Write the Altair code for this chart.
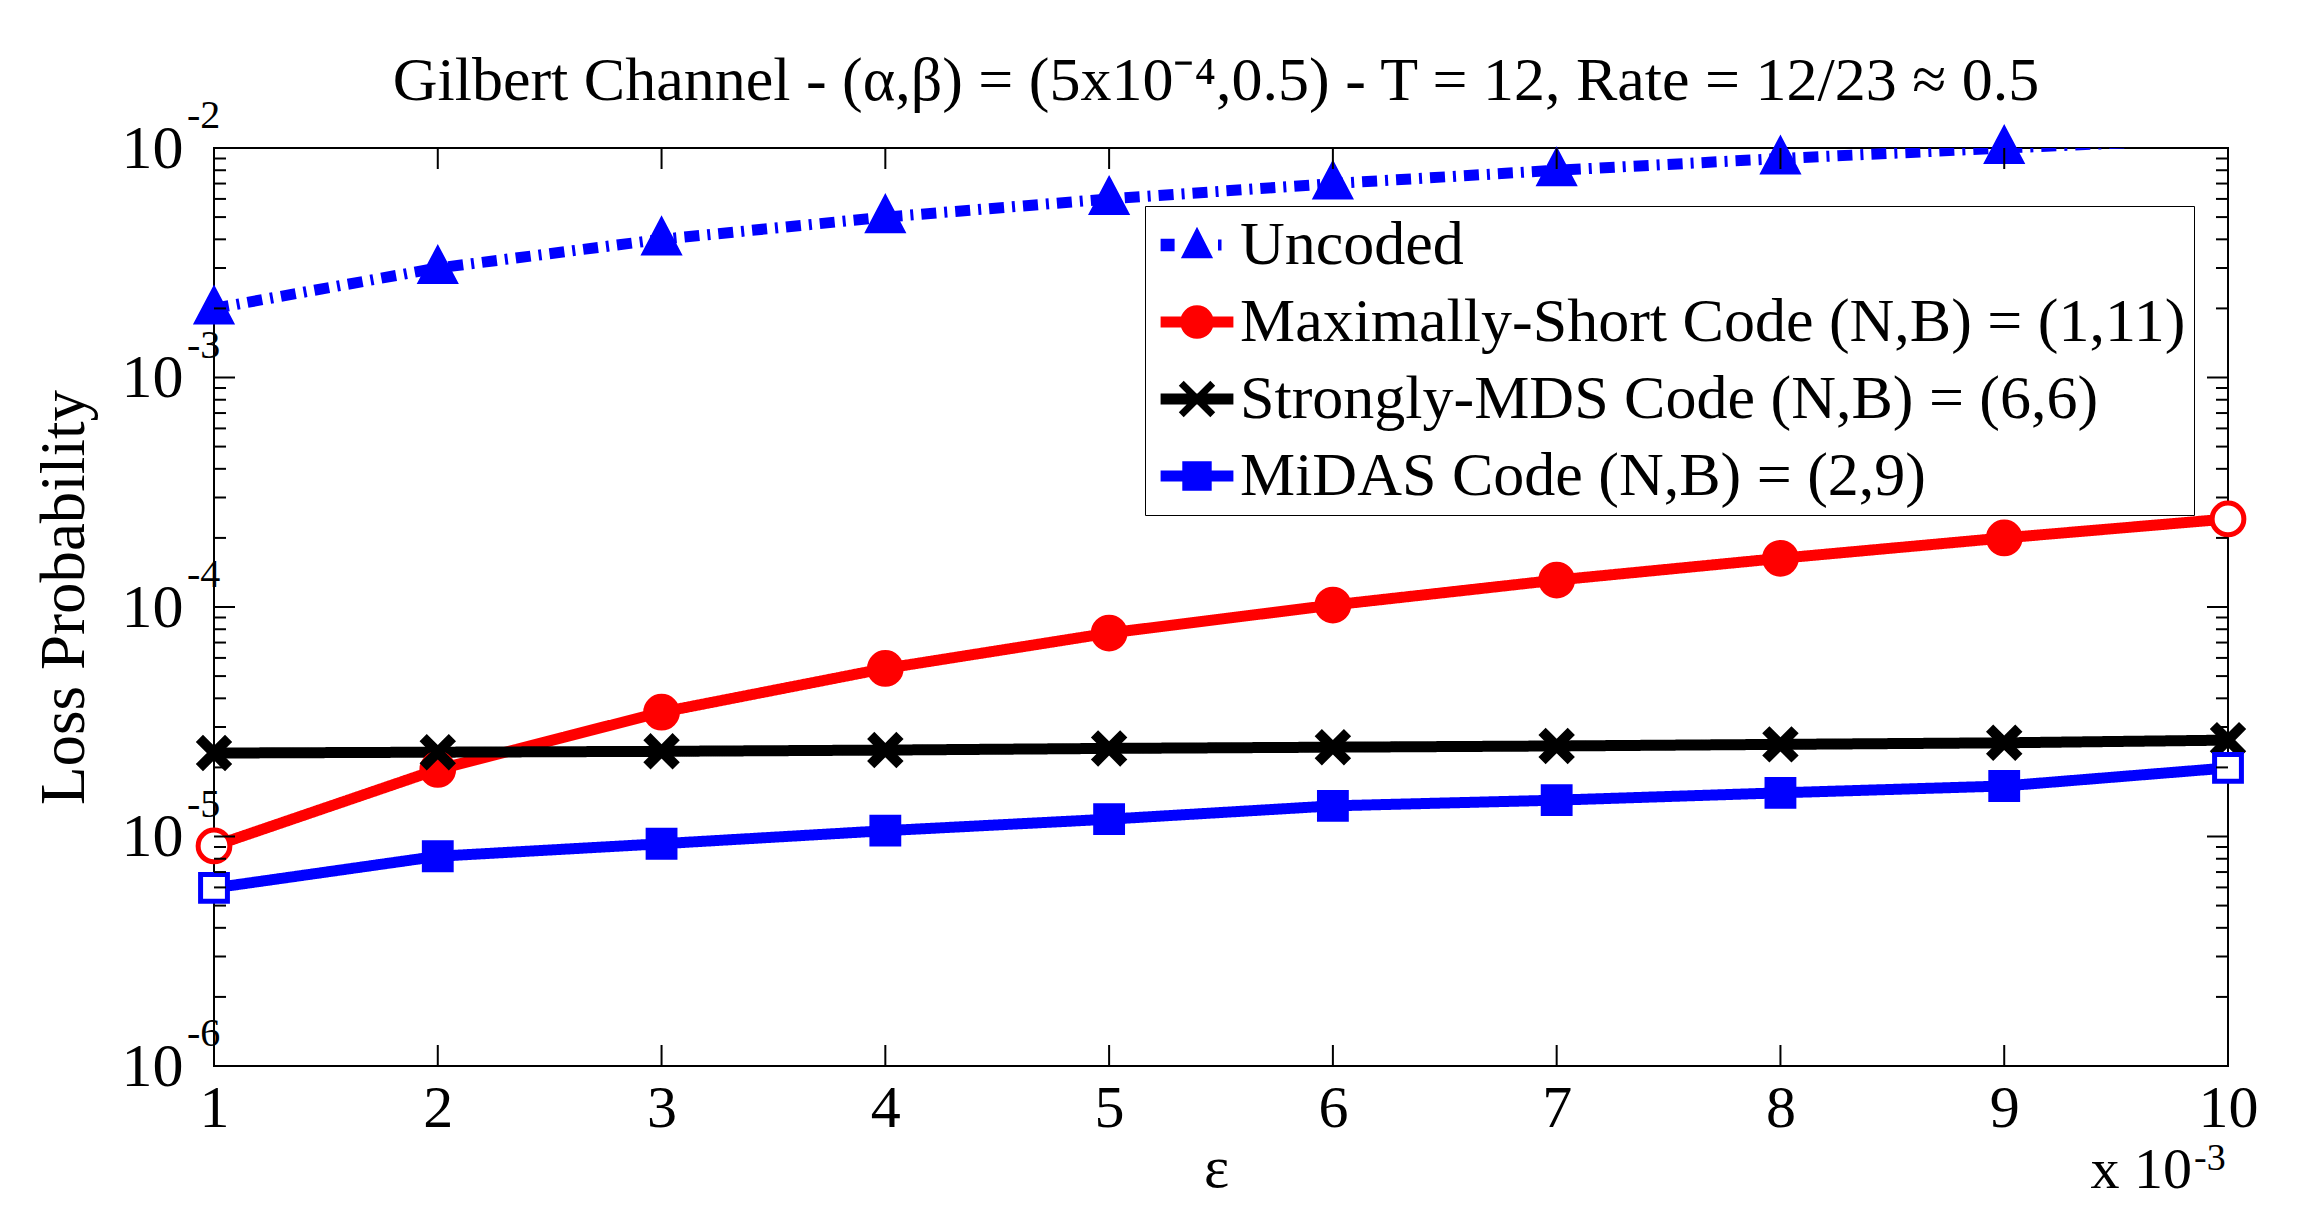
import altair as alt
import pandas as pd

# ---------------- data ----------------
eps = [1, 2, 3, 4, 5, 6, 7, 8, 9, 10]
uncoded = [2.0e-3, 3.0e-3, 4.0e-3, 5.0e-3, 6.0e-3, 7.0e-3, 8.0e-3, 9.0e-3, 1.0e-2, 1.1e-2]
max_short = [9.1e-6, 1.96e-5, 3.48e-5, 5.4e-5, 7.7e-5, 1.02e-4, 1.31e-4, 1.63e-4, 2.0e-4, 2.42e-4]
strongly_mds = [2.31e-5, 2.33e-5, 2.35e-5, 2.38e-5, 2.42e-5, 2.45e-5, 2.48e-5, 2.52e-5, 2.56e-5, 2.63e-5]
midas = [5.97e-6, 8.2e-6, 9.3e-6, 1.06e-5, 1.19e-5, 1.36e-5, 1.44e-5, 1.55e-5, 1.66e-5, 1.99e-5]

series_names = [
    "Uncoded",
    "Maximally-Short Code (N,B) = (1,11)",
    "Strongly-MDS Code (N,B) = (6,6)",
    "MiDAS Code (N,B) = (2,9)",
]
series_colors = ["#0000ff", "#ff0000", "#000000", "#0000ff"]

x_ticks = [1, 2, 3, 4, 5, 6, 7, 8, 9, 10]
x_inner_ticks = [2, 3, 4, 5, 6, 7, 8, 9]
y_decades = [1e-6, 1e-5, 1e-4, 1e-3, 1e-2]
y_exponents = ["-6", "-5", "-4", "-3", "-2"]
y_minor = [m * 10.0 ** e for e in range(-6, -2) for m in range(2, 10)]

title_text = "Gilbert Channel - (\u03b1,\u03b2) = (5x10\u207b\u2074,0.5) - T = 12, Rate = 12/23 \u2248 0.5"
x_title = "\u03b5"
y_title = "Loss Probability"
mult_base = "x 10"
mult_exp = "-3"

# ---------------- layout ----------------
W, H = 2014, 918
FONT = "Liberation Serif"

rows = []
for name, vals in zip(series_names, [uncoded, max_short, strongly_mds, midas]):
    for e, v in zip(eps, vals):
        rows.append({"eps": e, "value": v, "series": name})
df = pd.DataFrame(rows)

x_scale = alt.Scale(domain=[1, 10], nice=False, zero=False)
y_scale = alt.Scale(type="log", domain=[1e-6, 1e-2], nice=False)

x_axis = alt.Axis(
    values=x_ticks, ticks=False, domain=False, grid=False,
    labelFont=FONT, labelFontSize=60, labelColor="black", labelPadding=13,
    labelFlush=False, labelOverlap=False,
    title=x_title, titleFont=FONT, titleFontSize=60, titleFontWeight="normal",
    titleColor="black", titleX=1002, titleY=102, titleAlign="center",
    titleBaseline="middle",
)
y_axis = alt.Axis(
    values=y_decades, labelExpr="'10'", ticks=False, domain=False, grid=False,
    labelFont=FONT, labelFontSize=62, labelColor="black", labelPadding=31,
    labelOverlap=False, labelBaseline="middle",
    title=y_title, titleFont=FONT, titleFontSize=63, titleFontWeight="normal",
    titleColor="black", titleAngle=270, titleX=-150, titleY=449,
    titleAlign="center", titleBaseline="middle",
)
x_enc = alt.X("eps:Q", scale=x_scale, axis=x_axis)
y_enc = alt.Y("value:Q", scale=y_scale, axis=y_axis)

color_scale = alt.Scale(domain=series_names, range=series_colors)

# marker shapes for the data points
TRI = "M0,-1.1L1,0.8L-1,0.8Z"
XS = "M-1,-0.75L-0.75,-1L0,-0.25L0.75,-1L1,-0.75L0.25,0L1,0.75L0.75,1L0,0.25L-0.75,1L-1,0.75L-0.25,0Z"
point_shapes = [TRI, "circle", XS, "square"]
point_sizes = [1150, 720, 1350, 820]

# legend symbols: line + marker
LINE = "M-2.6,-0.4L2.6,-0.4L2.6,0.4L-2.6,0.4Z"
LEG_UNC = ("M-2.6,-0.45L-1.6,-0.45L-1.6,0.45L-2.6,0.45Z"
           "M0,-1.3L1.15,0.95L-1.15,0.95Z"
           "M1.5,-0.4L1.75,-0.4L1.75,0.4L1.5,0.4Z")
LEG_MS = LINE + "M-1.2,0A1.2,1.2,0,1,1,1.2,0A1.2,1.2,0,1,1,-1.2,0Z"
LEG_SM = LINE + ("M-1.3,-0.95L-0.95,-1.3L0,-0.35L0.95,-1.3L1.3,-0.95L0.35,0L1.3,0.95"
                 "L0.95,1.3L0,0.35L-0.95,1.3L-1.3,0.95L-0.35,0Z")
LEG_MI = LINE + "M-1.05,-1.05L1.05,-1.05L1.05,1.05L-1.05,1.05Z"
legend_shapes = [LEG_UNC, LEG_MS, LEG_SM, LEG_MI]

# ---------------- layers ----------------
lines = alt.Chart(df).mark_line(strokeWidth=11, clip=True, strokeCap="butt").encode(
    x=x_enc,
    y=y_enc,
    color=alt.Color("series:N", scale=color_scale, legend=None),
    strokeDash=alt.StrokeDash(
        "series:N",
        scale=alt.Scale(domain=series_names, range=[[15, 8, 3, 8], [1, 0], [1, 0], [1, 0]]),
        legend=None,
    ),
)

hollow_test = "(datum.eps == 1 || datum.eps == 10) && (datum.series == '%s' || datum.series == '%s')" % (
    series_names[1], series_names[3])

points = alt.Chart(df).transform_filter("datum.value <= 0.0101").transform_calculate(
    hollow=hollow_test
).mark_point(filled=True, opacity=1, strokeWidth=5).encode(
    x=x_enc,
    y=y_enc,
    shape=alt.Shape("series:N", scale=alt.Scale(domain=series_names, range=point_shapes), legend=None),
    size=alt.Size("series:N", scale=alt.Scale(domain=series_names, range=point_sizes), legend=None),
    fill=alt.condition("datum.hollow", alt.value("white"),
                       alt.Fill("series:N", scale=color_scale, legend=None)),
    stroke=alt.Stroke("series:N", scale=color_scale, legend=None),
)

legend_def = alt.Legend(
    title=None, orient="none", legendX=931, legendY=58,
    fillColor="white", strokeColor="black", padding=8, rowPadding=15,
    labelFont=FONT, labelFontSize=62, labelColor="black", labelLimit=3000,
    symbolSize=784, symbolStrokeWidth=0, symbolOffset=13, labelOffset=12,
    symbolOpacity=1,
)
legend_layer = alt.Chart(df).transform_filter("datum.eps == 1").mark_point(
    filled=True, opacity=1, clip=True
).encode(
    x=alt.value(-5000),
    y=alt.value(-5000),
    shape=alt.Shape("series:N", scale=alt.Scale(domain=series_names, range=legend_shapes), legend=legend_def),
    fill=alt.Fill("series:N", scale=alt.Scale(domain=series_names, range=series_colors), legend=legend_def),
)

ydec_df = pd.DataFrame({"value": y_decades, "exp": y_exponents})
yminor_df = pd.DataFrame({"value": y_minor})
xin_df = pd.DataFrame({"eps": x_inner_ticks})

rule_style = dict(color="black", strokeWidth=2)
y_major_l = alt.Chart(ydec_df).mark_rule(**rule_style).encode(y=y_enc, x=alt.value(0), x2=alt.value(21))
y_major_r = alt.Chart(ydec_df).mark_rule(**rule_style).encode(y=y_enc, x=alt.value(W), x2=alt.value(W - 21))
y_minor_l = alt.Chart(yminor_df).mark_rule(**rule_style).encode(y=y_enc, x=alt.value(0), x2=alt.value(12))
y_minor_r = alt.Chart(yminor_df).mark_rule(**rule_style).encode(y=y_enc, x=alt.value(W), x2=alt.value(W - 12))
x_tick_b = alt.Chart(xin_df).mark_rule(**rule_style).encode(x=x_enc, y=alt.value(H), y2=alt.value(H - 21))
x_tick_t = alt.Chart(xin_df).mark_rule(**rule_style).encode(x=x_enc, y=alt.value(0), y2=alt.value(21))

exp_text = alt.Chart(ydec_df).mark_text(
    font=FONT, fontSize=40, align="left", baseline="middle", dy=-32, color="black"
).encode(y=y_enc, x=alt.value(-27), text="exp:N")

title_layer = alt.Chart(pd.DataFrame({"t": [title_text]})).mark_text(
    font=FONT, fontSize=62, align="center", baseline="alphabetic", color="black"
).encode(x=alt.value(1002), y=alt.value(-48), text="t:N")

mult_layer = alt.Chart(pd.DataFrame({"t": [mult_base]})).mark_text(
    font=FONT, fontSize=58, align="right", baseline="alphabetic", color="black"
).encode(x=alt.value(W - 36), y=alt.value(1040), text="t:N")

mult_exp_layer = alt.Chart(pd.DataFrame({"t": [mult_exp]})).mark_text(
    font=FONT, fontSize=38, align="left", baseline="middle", color="black"
).encode(x=alt.value(W - 34), y=alt.value(1011), text="t:N")

chart = alt.layer(
    lines, points, legend_layer,
    y_major_l, y_major_r, y_minor_l, y_minor_r, x_tick_b, x_tick_t,
    exp_text, title_layer, mult_layer, mult_exp_layer,
).resolve_scale(
    shape="independent", fill="independent"
).properties(
    width=W, height=H,
    autosize=alt.AutoSizeParams(type="none"),
    padding={"left": 206, "top": 140, "right": 60, "bottom": 135},
    background="white",
).configure_view(
    stroke="black", strokeWidth=2
)

chart.save("out.html", embed_options={"renderer": "svg", "actions": False})
